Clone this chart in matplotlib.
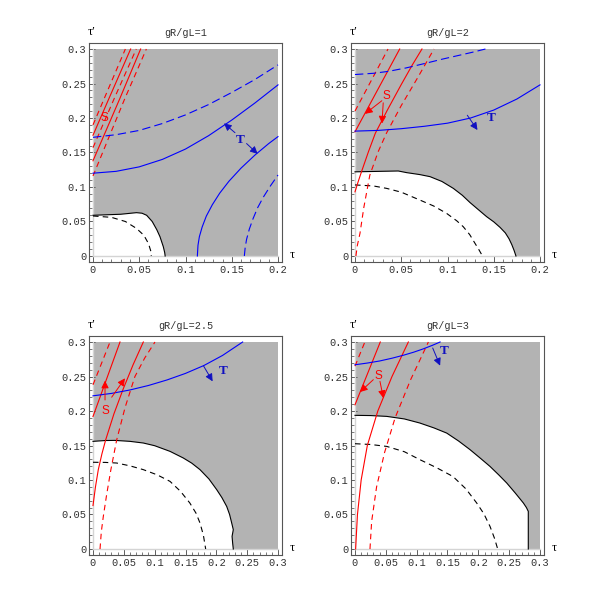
import matplotlib.pyplot as plt

plt.rcParams['lines.scale_dashes'] = False

# ---- data ----
titles = ["gR/gL=1", "gR/gL=2", "gR/gL=2.5", "gR/gL=3"]
x_max = [0.2, 0.2, 0.3, 0.3]
y_max = 0.3
y_ticks = [0, 0.05, 0.1, 0.15, 0.2, 0.25, 0.3]
tick_labels = {0: "0", 0.05: "0.05", 0.1: "0.1", 0.15: "0.15", 0.2: "0.2",
               0.25: "0.25", 0.3: "0.3"}

# panel 1 (gR/gL=1)
p1_bound = [(0, 0.059), (0.03, 0.0605), (0.047, 0.0628), (0.053, 0.062), (0.058, 0.059),
            (0.064, 0.05), (0.069, 0.038), (0.0724, 0.028), (0.076, 0.0135), (0.0775, 0.005), (0.078, 0)]
p1_dash = [(0, 0.058), (0.02, 0.056), (0.035, 0.05), (0.047, 0.04), (0.055, 0.03),
           (0.06, 0.018), (0.0625, 0.007), (0.063, 0)]
p1_red = [([(0, 0.19), (0.0119, 0.2275), (0.035, 0.3)], '--'),
          ([(0, 0.175), (0.017, 0.2275), (0.0407, 0.3)], '-'),
          ([(0, 0.157), (0.0227, 0.2275), (0.0468, 0.3)], '--'),
          ([(0, 0.138), (0.0288, 0.2275), (0.0515, 0.3)], '-'),
          ([(0, 0.116), (0.0342, 0.2275), (0.0577, 0.3)], '--')]
p1_blue = [([(0, 0.12), (0.025, 0.1227), (0.05, 0.1292), (0.075, 0.14), (0.1, 0.155),
             (0.125, 0.1744), (0.15, 0.197), (0.175, 0.2217), (0.2, 0.248)], '-'),
           ([(0, 0.172), (0.025, 0.1758), (0.05, 0.182), (0.075, 0.192), (0.1, 0.2045),
             (0.125, 0.2195), (0.15, 0.237), (0.175, 0.2558), (0.2, 0.277)], '--'),
           ([(0.1128, 0), (0.1135, 0.0155), (0.115, 0.028), (0.118, 0.042), (0.1225, 0.0578),
             (0.129, 0.0743), (0.137, 0.0911), (0.147, 0.1084), (0.16, 0.1273), (0.175, 0.1462),
             (0.19, 0.163), (0.2, 0.173)], '-'),
           ([(0.1636, 0), (0.1645, 0.012), (0.166, 0.024), (0.169, 0.039), (0.173, 0.054),
             (0.178, 0.07), (0.184, 0.085), (0.192, 0.102), (0.2, 0.1174)], '--')]
p1_s = (0.0119, 0.2)
p1_s_arrows = []
p1_t = (0.159, 0.168)
p1_t_arrows = [((0.1535, 0.1787), (0.1416, 0.1923)), ((0.166, 0.163), (0.178, 0.148))]

# panel 2 (gR/gL=2)
p2_bound = [(0, 0.122), (0.0468, 0.1232), (0.0559, 0.1208), (0.07, 0.118), (0.0811, 0.115),
            (0.094, 0.108), (0.1063, 0.098), (0.116, 0.088), (0.1243, 0.0775), (0.1335, 0.067),
            (0.1423, 0.057), (0.15, 0.0495), (0.1568, 0.0415), (0.1625, 0.0335), (0.1665, 0.025),
            (0.1695, 0.0165), (0.172, 0.008), (0.174, 0)]
p2_dash = [(0, 0.103), (0.02, 0.1015), (0.0342, 0.098), (0.05, 0.0925), (0.0703, 0.081),
           (0.085, 0.0725), (0.099, 0.0618), (0.11, 0.051), (0.117, 0.0425), (0.124, 0.031),
           (0.1297, 0.0184), (0.134, 0.009), (0.1378, 0)]
p2_red = [([(0, 0.21), (0.0357, 0.3)], '--'),
          ([(0, 0.18), (0.0483, 0.3)], '-'),
          ([(0, 0.093), (0.0035, 0.108), (0.007, 0.122), (0.0145, 0.151), (0.022, 0.178),
            (0.035, 0.2115), (0.05, 0.2485), (0.062, 0.277), (0.0724, 0.3)], '-'),
          ([(0.001, 0), (0.0025, 0.015), (0.0054, 0.033), (0.0095, 0.07), (0.016, 0.117),
            (0.025, 0.151), (0.034, 0.178), (0.05, 0.218), (0.068, 0.259), (0.0854, 0.3)], '--')]
p2_blue = [([(0, 0.181), (0.025, 0.182), (0.05, 0.1845), (0.075, 0.188), (0.1, 0.1925),
             (0.125, 0.2), (0.15, 0.2115), (0.175, 0.2275), (0.2, 0.248)], '-'),
           ([(0, 0.263), (0.02, 0.2648), (0.0357, 0.2675), (0.055, 0.2725), (0.0754, 0.279),
             (0.095, 0.2855), (0.1114, 0.2905), (0.127, 0.2953), (0.141, 0.3)], '--')]
p2_s = (0.034, 0.232)
p2_s_arrows = [((0.029, 0.225), (0.0108, 0.206)), ((0.0305, 0.222), (0.0292, 0.192))]
p2_t = (0.147, 0.2)
p2_t_arrows = [((0.1214, 0.204), (0.1324, 0.1826))]

# panel 3 (gR/gL=2.5)
p3_bound = [(0, 0.156), (0.02, 0.1572), (0.0357, 0.1574), (0.06, 0.156), (0.0816, 0.1536),
            (0.1, 0.1497), (0.1249, 0.1415), (0.1464, 0.1319), (0.16, 0.1245), (0.1735, 0.115),
            (0.188, 0.1015), (0.2006, 0.086), (0.209, 0.0745), (0.2168, 0.0617), (0.2215, 0.05),
            (0.2249, 0.0377), (0.2275, 0.028), (0.2255, 0.0183), (0.2265, 0.008), (0.2275, 0)]
p3_dash = [(0, 0.1257), (0.02, 0.1255), (0.0384, 0.1246), (0.06, 0.1205), (0.0816, 0.115),
           (0.104, 0.1075), (0.1249, 0.098), (0.142, 0.0835), (0.157, 0.0667), (0.167, 0.052),
           (0.1735, 0.0377), (0.179, 0.02), (0.1827, 0)]
p3_red = [([(0, 0.238), (0.0276, 0.3)], '--'),
          ([(0, 0.192), (0.0438, 0.3)], '-'),
          ([(0, 0.063), (0.004, 0.09), (0.0086, 0.115), (0.0145, 0.138), (0.0205, 0.158),
            (0.034, 0.196), (0.049, 0.232), (0.065, 0.267), (0.0816, 0.3)], '-'),
          ([(0.0114, 0), (0.0135, 0.025), (0.0167, 0.047), (0.022, 0.078), (0.029, 0.115),
            (0.0384, 0.158), (0.052, 0.205), (0.068, 0.25), (0.084, 0.277), (0.1005, 0.3)], '--')]
p3_blue = [([(0, 0.222), (0.03, 0.2255), (0.06, 0.2305), (0.09, 0.237), (0.12, 0.245),
             (0.15, 0.2545), (0.18, 0.266), (0.21, 0.2805), (0.2427, 0.3)], '-')]
p3_s = (0.0195, 0.2)
p3_s_arrows = [((0.0195, 0.216), (0.0195, 0.244)), ((0.0303, 0.22), (0.0519, 0.2474))]
p3_t = (0.212, 0.2576)
p3_t_arrows = [((0.179, 0.2657), (0.194, 0.243))]

# panel 4 (gR/gL=3)
p4_bound = [(0, 0.1937), (0.025, 0.1934), (0.0514, 0.1922), (0.08, 0.1885), (0.105, 0.1826),
            (0.128, 0.1755), (0.1487, 0.168), (0.168, 0.1565), (0.1865, 0.144), (0.204, 0.131),
            (0.2189, 0.1197), (0.233, 0.1075), (0.246, 0.0957), (0.26, 0.081), (0.273, 0.0667),
            (0.278, 0.06), (0.281, 0.0545), (0.281, 0)]
p4_dash = [(0, 0.1526), (0.025, 0.1515), (0.0514, 0.1487), (0.08, 0.141), (0.1054, 0.1294),
           (0.133, 0.1175), (0.159, 0.105), (0.18, 0.087), (0.1973, 0.0667), (0.209, 0.051),
           (0.2189, 0.0328), (0.226, 0.016), (0.2314, 0)]
p4_red = [([(0, 0.265), (0.016, 0.3)], '--'),
          ([(0, 0.209), (0.041, 0.3)], '-'),
          ([(0.001, 0), (0.004, 0.05), (0.01, 0.1), (0.02, 0.15), (0.037, 0.2), (0.06, 0.25), (0.0865, 0.3)], '-'),
          ([(0.0243, 0), (0.027, 0.04), (0.035, 0.09), (0.048, 0.14), (0.065, 0.19), (0.09, 0.245), (0.119, 0.3)], '--')]
p4_blue = [([(0, 0.267), (0.02, 0.2695), (0.04, 0.2725), (0.06, 0.2765), (0.0784, 0.2808),
             (0.095, 0.2852), (0.11, 0.2898), (0.125, 0.295), (0.138, 0.3)], '-')]
p4_s = (0.0378, 0.251)
p4_s_arrows = [((0.0297, 0.2454), (0.0081, 0.2275)), ((0.0405, 0.2429), (0.046, 0.2188))]
p4_t = (0.145, 0.2864)
p4_t_arrows = [((0.126, 0.2913), (0.138, 0.2657))]

panels = [
    (p1_bound, p1_dash, p1_red, p1_blue, p1_s, p1_s_arrows, p1_t, p1_t_arrows),
    (p2_bound, p2_dash, p2_red, p2_blue, p2_s, p2_s_arrows, p2_t, p2_t_arrows),
    (p3_bound, p3_dash, p3_red, p3_blue, p3_s, p3_s_arrows, p3_t, p3_t_arrows),
    (p4_bound, p4_dash, p4_red, p4_blue, p4_s, p4_s_arrows, p4_t, p4_t_arrows),
]

# axes boxes: left, bottom (pixels from top)
boxes = [(89, 262), (351, 262), (89, 555), (351, 555)]
W = 599.0

mono = 'Liberation Mono'
serif = ['Liberation Serif', 'DejaVu Serif']

fig = plt.figure(figsize=(5.99, 5.99), dpi=100)


def xy(pts):
    return [p[0] for p in pts], [p[1] for p in pts]


for i, (bound, dash, reds, blues, s_pos, s_arr, t_pos, t_arr) in enumerate(panels):
    L, B = boxes[i]
    ax = fig.add_axes([L / W, 1 - B / W, 193 / W, 219 / W])
    xm = x_max[i]
    ax.set_xlim(-0.0216 * xm, 1.0216 * xm)
    ax.set_ylim(-0.0087, 0.3087)

    # shaded region and white hole
    ax.fill_between([0, xm], 0, y_max, color='#b3b3b3', lw=0, zorder=1)
    bx, by = xy(bound)
    ax.fill(bx + [0], by + [0], color='white', lw=0, zorder=2)
    ax.plot([0, xm], [0, 0], color='#d4d4d4', lw=1, zorder=2.5)
    ax.plot([0, 0], [0, y_max], color='#d4d4d4', lw=1, zorder=2.5)
    ax.plot(bx, by, color='black', lw=0.8, zorder=3)
    dx, dy = xy(dash)
    ax.plot(dx, dy, color='black', lw=0.8, dashes=(4, 3), zorder=3)

    for pts, ls in reds:
        cx, cy = xy(pts)
        if ls == '--':
            ax.plot(cx, cy, color='red', lw=0.8, dashes=(4, 3), zorder=4)
        else:
            ax.plot(cx, cy, color='red', lw=0.8, zorder=4)
    for pts, ls in blues:
        cx, cy = xy(pts)
        if ls == '--':
            ax.plot(cx, cy, color='blue', lw=0.8, dashes=(6, 3), zorder=4)
        else:
            ax.plot(cx, cy, color='blue', lw=0.8, zorder=4)

    ax.text(s_pos[0], s_pos[1], "S", color='red', fontsize=8.5, ha='center', va='center',
            family='Liberation Sans', zorder=5)
    for a, b in s_arr:
        ax.annotate('', xy=b, xytext=a, zorder=5,
                    arrowprops=dict(arrowstyle='-|>', color='red', lw=0.7,
                                    mutation_scale=11, shrinkA=0, shrinkB=0))
    ax.text(t_pos[0], t_pos[1], "T", color='#1010c0', fontsize=9.5, ha='center', va='center',
            family=serif, fontweight='bold', zorder=5)
    for a, b in t_arr:
        ax.annotate('', xy=b, xytext=a, zorder=5,
                    arrowprops=dict(arrowstyle='-|>', color='#1010c0', lw=0.7,
                                    mutation_scale=11, shrinkA=0, shrinkB=0))

    # ticks
    xt = [t for t in y_ticks if t <= xm + 1e-9]
    ax.set_xticks(xt)
    ax.set_xticklabels([tick_labels[t] for t in xt], family=mono, fontsize=7.5)
    ax.set_yticks(y_ticks)
    ax.set_yticklabels([tick_labels[t] for t in y_ticks], family=mono, fontsize=7.5)
    minor = [k * 0.01 for k in range(int(round(xm * 100)) + 1)]
    ax.set_xticks(minor, minor=True)
    ax.set_yticks([k * 0.01 for k in range(31)], minor=True)
    ax.tick_params(which='major', direction='in', length=4, width=0.6, color='#444444',
                   pad=2, labelcolor='#333333')
    ax.tick_params(which='minor', direction='in', length=2, width=0.5, color='#444444')
    for sp in ax.spines.values():
        sp.set_color('#555555')
        sp.set_linewidth(0.8)

    ax.set_title(titles[i], family=mono, fontsize=7.3, pad=5, color='#333333')
    ax.text(0.015, 1.052, "τ′", transform=ax.transAxes, ha='center', va='center',
            family=serif, fontsize=9)
    ax.text(1.052, 0.03, "τ", transform=ax.transAxes, ha='center', va='center',
            family=serif, fontsize=9)

fig.savefig("out.png", dpi=100)
